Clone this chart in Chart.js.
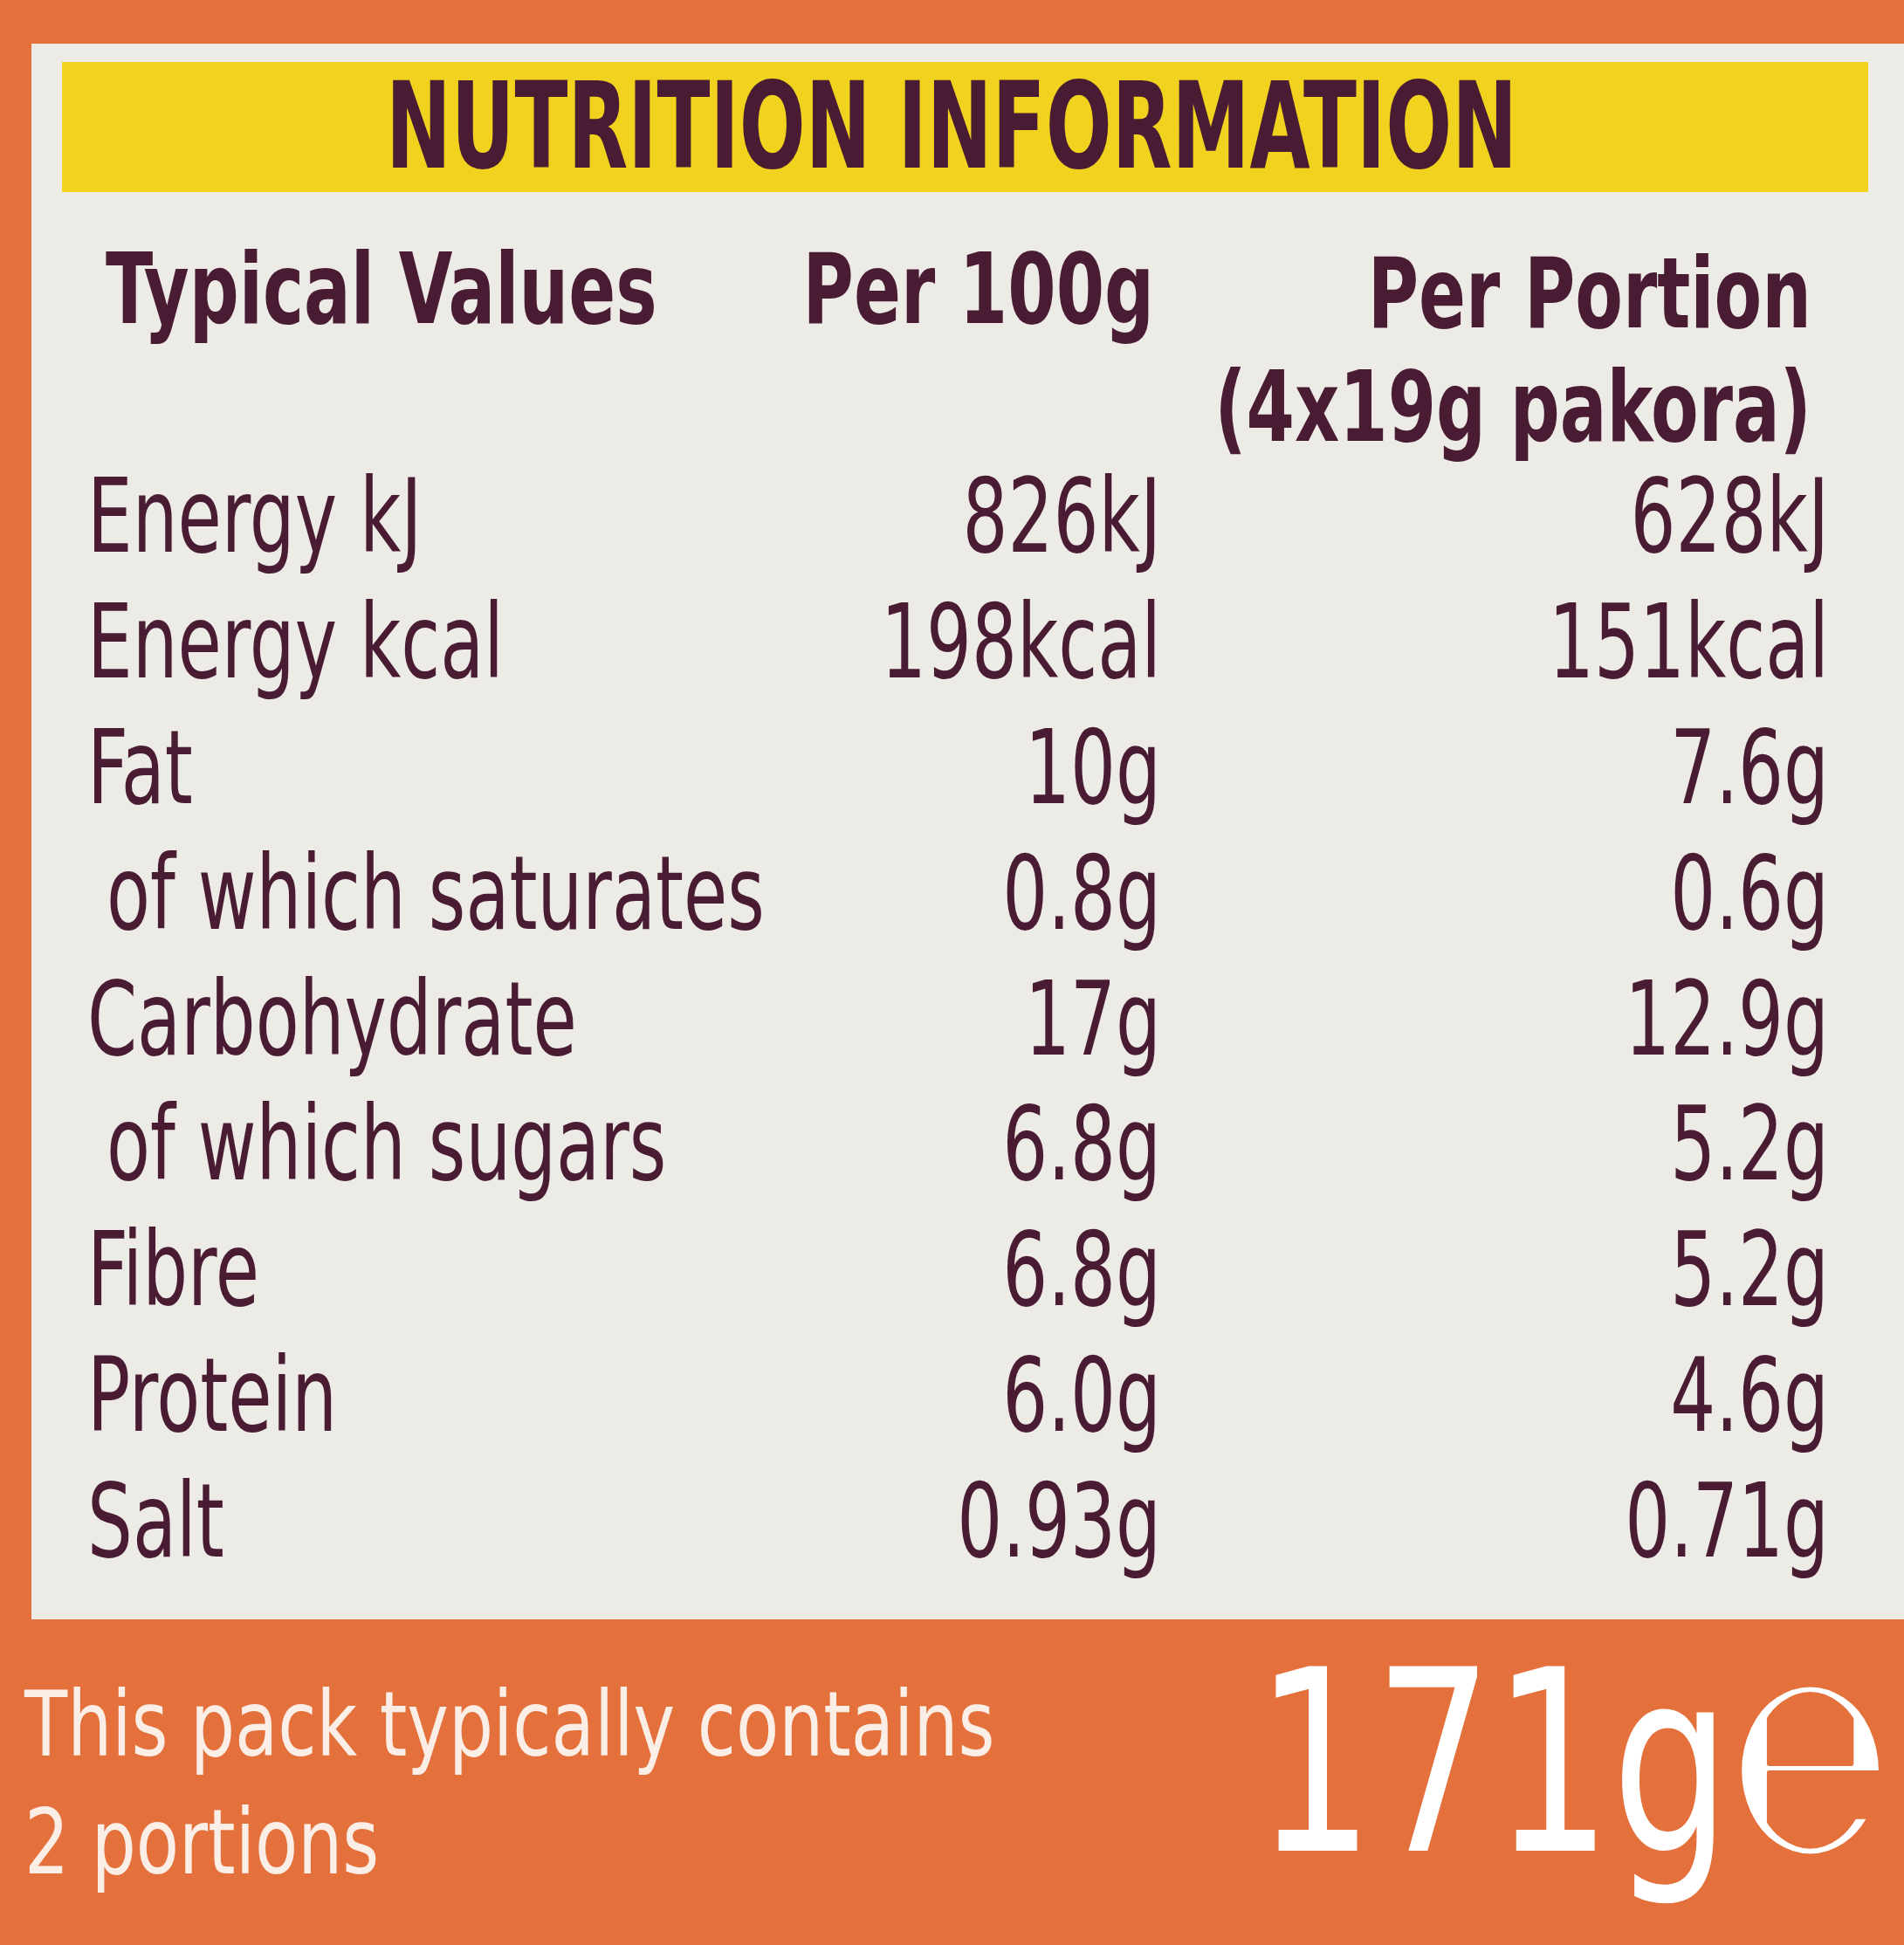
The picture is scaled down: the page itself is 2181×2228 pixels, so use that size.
<!DOCTYPE html>
<html><head><meta charset="utf-8">
<script src="https://cdn.jsdelivr.net/npm/chart.js@4.4.1/dist/chart.umd.min.js"></script>
<style>html,body{margin:0;padding:0;background:#e4713c;overflow:hidden}#w{width:2181px;height:2228px}</style>
</head><body><div id="w"><canvas id="c" width="2181" height="2228"></canvas></div>
<script>
const title = "NUTRITION INFORMATION";
const headers = ["Typical Values", "Per 100g", "Per Portion", "(4x19g pakora)"];
const rows = ["Energy kJ","Energy kcal","Fat"," of which saturates","Carbohydrate"," of which sugars","Fibre","Protein","Salt"];
const per100 = ["826kJ","198kcal","10g","0.8g","17g","6.8g","6.8g","6.0g","0.93g"];
const perPortion = ["628kJ","151kcal","7.6g","0.6g","12.9g","5.2g","5.2g","4.6g","0.71g"];
const footer = ["This pack typically contains","2 portions"];
const packWeight = "171g℮";

const MAROON = "#4a1c34";
const FONT = '"DejaVu Sans Condensed","Liberation Sans Narrow",sans-serif';

function txt(ctx, s, x, y, font, color, align, sx){
  ctx.save(); ctx.font = font; ctx.fillStyle = color; ctx.textBaseline = "alphabetic";
  ctx.translate(x, y); ctx.scale(sx||1, 1); ctx.textAlign = align||"left";
  ctx.fillText(s, 0, 0); ctx.restore();
}

const labelPlugin = {
  id: "label",
  beforeDraw(chart){
    const ctx = chart.ctx;
    ctx.save();
    ctx.fillStyle = "#e4713c"; ctx.fillRect(0,0,chart.width,chart.height);
    ctx.fillStyle = "#ecebe5"; ctx.fillRect(36,50,2145,1805);
    ctx.fillStyle = "#f1d31f"; ctx.fillRect(71,71,2069,149);
    ctx.restore();
  },
  afterDraw(chart){
    const ctx = chart.ctx, y = chart.scales.y;
    txt(ctx, title, 1090, 192, "bold 138px "+FONT, MAROON, "center", 0.72);
    txt(ctx, headers[0], 121, 370, "bold 112px "+FONT, MAROON, "left", 0.79);
    txt(ctx, headers[1], 1322, 370, "bold 112px "+FONT, MAROON, "right", 0.79);
    txt(ctx, headers[2], 2075, 375, "bold 112px "+FONT, MAROON, "right", 0.79);
    txt(ctx, headers[3], 2075, 505, "bold 112px "+FONT, MAROON, "right", 0.79);
    rows.forEach((r, i) => {
      const py = y.getPixelForValue(i) + 42;
      const indent = r.startsWith(" ");
      txt(ctx, r.trim(), indent ? 122 : 100, py, "118px "+FONT, MAROON, "left", 0.77);
      txt(ctx, per100[i], 1330, py, "118px "+FONT, MAROON, "right", 0.77);
      txt(ctx, perPortion[i], 2095, py, "118px "+FONT, MAROON, "right", 0.77);
    });
    txt(ctx, footer[0], 28, 2011, "104px "+FONT, "#fbeee6", "left", 0.86);
    txt(ctx, footer[1], 28, 2146, "104px "+FONT, "#fbeee6", "left", 0.86);
    txt(ctx, packWeight, 2165, 2120, "290px "+FONT, "#ffffff", "right", 0.82);
  }
};

new Chart(document.getElementById("c"), {
  type: "bar",
  data: { labels: rows, datasets: [{ data: rows.map(() => 0), backgroundColor: "rgba(0,0,0,0)" }] },
  options: {
    indexAxis: "y", responsive: false, animation: false, devicePixelRatio: 1,
    layout: { padding: { top: 518, bottom: 415, left: 0, right: 0 } },
    plugins: { legend: { display: false }, tooltip: { enabled: false } },
    scales: { y: { type: "category", display: false, offset: true }, x: { display: false, min: 0, max: 1 } }
  },
  plugins: [labelPlugin]
});
</script></body></html>
